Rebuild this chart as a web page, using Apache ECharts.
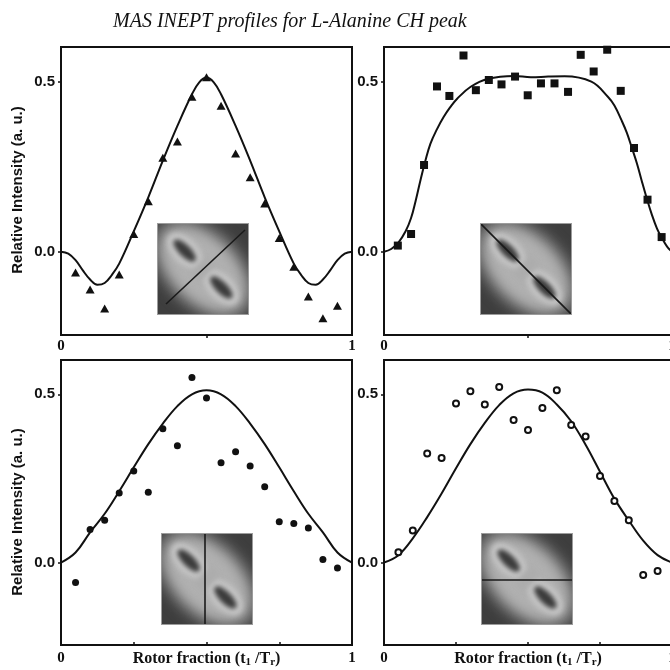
<!DOCTYPE html>
<html><head><meta charset="utf-8">
<script src="https://cdn.jsdelivr.net/npm/echarts@6/dist/echarts.min.js"></script>
<style>html,body{margin:0;padding:0;background:#fff}#c{width:670px;height:670px}</style>
</head><body><div id="c"></div>
<script>
// ---------- texts ----------
const chartTitle = 'MAS INEPT profiles for L-Alanine CH peak';
const yAxisName = 'Relative Intensity (a. u.)';
const xAxisName = 'Rotor fraction (t{s|1} /T{s|r})';
const yTickValues = [0, 0.5];
const xLabelValues = [0, 1];
const xTicksTop = [0.5];
const xTicksBottom = [0.25, 0.5, 0.75];

// ---------- panel 1 (triangles) ----------
const p1X = [0.05,0.10,0.15,0.20,0.25,0.30,0.35,0.40,0.45,0.50,0.55,0.60,0.65,0.70,0.75,0.80,0.85,0.90,0.95];
const p1Y = [-0.061,-0.111,-0.167,-0.067,0.052,0.148,0.276,0.324,0.456,0.513,0.429,0.289,0.219,0.142,0.040,-0.044,-0.132,-0.196,-0.159];
const c1X = [0,0.025,0.05,0.075,0.1,0.125,0.15,0.175,0.2,0.25,0.3,0.35,0.4,0.45,0.475,0.5,0.525,0.55,0.6,0.65,0.7,0.75,0.8,0.825,0.85,0.875,0.9,0.925,0.95,0.975,1];
const c1Y = [0,-0.006,-0.025,-0.055,-0.082,-0.097,-0.092,-0.068,-0.035,0.06,0.16,0.268,0.37,0.463,0.498,0.512,0.498,0.463,0.37,0.268,0.16,0.06,-0.035,-0.068,-0.092,-0.097,-0.082,-0.055,-0.025,-0.006,0];

// ---------- panel 2 (squares) ----------
const p2X = [0.048,0.094,0.139,0.184,0.227,0.276,0.319,0.364,0.408,0.455,0.499,0.545,0.592,0.639,0.683,0.728,0.775,0.822,0.868,0.915,0.964];
const p2Y = [0.018,0.052,0.255,0.486,0.458,0.577,0.475,0.505,0.492,0.515,0.460,0.495,0.495,0.470,0.579,0.530,0.594,0.473,0.305,0.153,0.043];
const c2X = [0,0.025,0.05,0.075,0.094,0.11,0.126,0.143,0.161,0.185,0.207,0.23,0.254,0.301,0.359,0.452,0.51,0.57,0.627,0.72,0.778,0.8,0.825,0.843,0.86,0.878,0.895,0.912,0.93,0.948,0.965,0.983,1];
const c2Y = [0,0.008,0.027,0.06,0.099,0.15,0.208,0.265,0.317,0.362,0.396,0.425,0.45,0.485,0.508,0.517,0.513,0.515,0.516,0.5,0.455,0.43,0.386,0.35,0.307,0.26,0.208,0.158,0.109,0.068,0.04,0.015,0];

// ---------- panel 3 (filled circles) ----------
const p3X = [0.05,0.10,0.15,0.20,0.25,0.30,0.35,0.40,0.45,0.50,0.55,0.60,0.65,0.70,0.75,0.80,0.85,0.90,0.95];
const p3Y = [-0.059,0.098,0.126,0.207,0.272,0.209,0.398,0.347,0.550,0.489,0.297,0.329,0.287,0.225,0.121,0.116,0.103,0.009,-0.016];
const c3X = [0,0.05,0.1,0.15,0.2,0.25,0.3,0.35,0.4,0.45,0.5,0.55,0.6,0.65,0.7,0.75,0.8,0.85,0.9,0.95,1];
const c3Y = [0,0.03,0.09,0.145,0.212,0.283,0.352,0.413,0.465,0.5,0.512,0.5,0.465,0.413,0.352,0.283,0.212,0.145,0.09,0.03,0];

// ---------- panel 4 (open circles) ----------
const p4X = [0.05,0.10,0.15,0.20,0.25,0.30,0.35,0.40,0.45,0.50,0.55,0.60,0.65,0.70,0.75,0.80,0.85,0.90,0.95];
const p4Y = [0.031,0.095,0.324,0.311,0.473,0.509,0.470,0.522,0.424,0.394,0.459,0.512,0.409,0.375,0.257,0.183,0.126,-0.037,-0.025];
const c4X = [0,0.05,0.1,0.15,0.2,0.25,0.3,0.35,0.4,0.45,0.5,0.55,0.6,0.65,0.7,0.75,0.8,0.85,0.9,0.95,1];
const c4Y = [0,0.022,0.072,0.135,0.205,0.28,0.352,0.415,0.468,0.503,0.514,0.505,0.47,0.42,0.35,0.27,0.19,0.125,0.065,0.022,0];

const zip = (xs, ys) => xs.map((x, i) => [x, ys[i]]);
const INK = '#111';

// ---------- inset pictures (decorative 2D spectra) ----------
function makeInset(kind) {
  const S = 92;
  const c = document.createElement('canvas');
  c.width = S; c.height = S;
  const g = c.getContext('2d');
  g.fillStyle = '#3e3e3e'; g.fillRect(0, 0, S, S);
  const ell = (cx, cy, rx, ry, col, blur) => {
    g.save(); g.filter = 'blur(' + blur + 'px)';
    g.translate(S / 2, S / 2); g.rotate(Math.PI / 4);
    g.beginPath(); g.ellipse(cx, cy, rx, ry, 0, 0, Math.PI * 2);
    g.fillStyle = col; g.fill(); g.restore();
  };
  ell(0, 0, 62, 40, '#707070', 6);
  ell(0, 0, 53, 32, '#9c9c9c', 5);
  ell(0, 0, 46, 26, '#b0b0b0', 4);
  ell(-26, 0, 21, 11, '#d2d2d2', 3);
  ell(26, 0, 21, 11, '#d2d2d2', 3);
  ell(-26, 0, 15, 6, '#3a3a3a', 2.5);
  ell(26, 0, 15, 6, '#3a3a3a', 2.5);
  ell(0, 0, 7, 13, '#acacac', 3);
  g.filter = 'none';
  g.strokeStyle = '#1a1a1a'; g.lineWidth = 1.6;
  g.beginPath();
  if (kind === 'anti') { g.moveTo(9, 81); g.lineTo(88, 7); }
  if (kind === 'diag') { g.moveTo(0, 0); g.lineTo(S, S); }
  if (kind === 'vert') { g.moveTo(44, 0); g.lineTo(44, S); }
  if (kind === 'horiz') { g.moveTo(0, 47); g.lineTo(S, 47); }
  g.stroke();
  g.strokeStyle = '#9c9c9c'; g.lineWidth = 1;
  g.strokeRect(0.5, 0.5, S - 1, S - 1);
  return c;
}

// ---------- layout ----------
const grids = [
  { left: 61, top: 47, width: 291, height: 288 },
  { left: 384, top: 47, width: 288, height: 288 },
  { left: 61, top: 360, width: 291, height: 285 },
  { left: 384, top: 360, width: 288, height: 285 }
].map(g => Object.assign(g, { show: true, borderColor: INK, borderWidth: 2, backgroundColor: 'transparent',
  containLabel: false, outerBoundsMode: 'none' }));

const serifBold = { fontFamily: 'Liberation Serif', fontWeight: 'bold', color: INK };

function xAx(gi, bottom) {
  return {
    type: 'value', gridIndex: gi, min: 0, max: 1,
    axisLine: { show: false, onZero: false }, splitLine: { show: false },
    axisTick: { show: true, customValues: bottom ? xTicksBottom : xTicksTop, inside: bottom, length: 3, lineStyle: { color: INK, width: 1.5 } },
    axisLabel: Object.assign({ customValues: xLabelValues, margin: bottom ? 6 : 4, formatter: v => String(v), fontSize: 15 }, serifBold),
    name: bottom ? xAxisName : '', nameLocation: 'middle', nameGap: 5, nameMoveOverlap: false,
    nameTextStyle: Object.assign({ fontSize: 16, lineHeight: 18, verticalAlign: 'top',
      rich: { s: { fontFamily: 'Liberation Serif', fontWeight: 'bold', color: INK, fontSize: 11, lineHeight: 8, verticalAlign: 'bottom' } } }, serifBold)
  };
}
function yAx(gi) {
  return {
    type: 'value', gridIndex: gi, min: -0.245, max: 0.602,
    axisLine: { show: false, onZero: false }, splitLine: { show: false },
    axisTick: { show: true, customValues: yTickValues, inside: false, length: 3, lineStyle: { color: INK, width: 1.5 } },
    axisLabel: { customValues: yTickValues, margin: 6, formatter: v => v.toFixed(1), fontFamily: 'Liberation Sans', fontWeight: 'bold', fontSize: 15, color: INK }
  };
}

function curve(i, xs, ys) {
  return { type: 'line', xAxisIndex: i, yAxisIndex: i, data: zip(xs, ys), showSymbol: false, smooth: 0.4,
    lineStyle: { color: INK, width: 2 }, z: 3, silent: true };
}
function pts(i, xs, ys, symbol, size, extra) {
  return Object.assign({ type: 'scatter', xAxisIndex: i, yAxisIndex: i, data: zip(xs, ys), symbol, symbolSize: size,
    itemStyle: { color: INK, opacity: 1 }, z: 4 }, extra || {});
}

const insets = [
  { kind: 'anti', x: 157, y: 223 },
  { kind: 'diag', x: 480, y: 223 },
  { kind: 'vert', x: 161, y: 533 },
  { kind: 'horiz', x: 481, y: 533 }
];

const option = {
  animation: false,
  backgroundColor: '#fff',
  title: { text: chartTitle, left: 113, top: 12, padding: 0,
    textStyle: { fontFamily: 'Liberation Serif', fontStyle: 'italic', fontWeight: 'normal', fontSize: 20, color: INK } },
  grid: grids,
  xAxis: [xAx(0, false), xAx(1, false), xAx(2, true), xAx(3, true)],
  yAxis: [yAx(0), yAx(1), yAx(2), yAx(3)],
  graphic: insets.map(s => ({ type: 'image', x: s.x, y: s.y, z: 1, silent: true,
      style: { image: makeInset(s.kind), width: 92, height: 92 } }))
    .concat([190, 512].map(cy => ({ type: 'text', x: 18, y: cy, rotation: Math.PI / 2, silent: true,
      style: { text: yAxisName, align: 'center', verticalAlign: 'middle', textAlign: 'center', textVerticalAlign: 'middle',
        font: 'bold 15px "Liberation Sans"', fill: INK } }))),
  series: [
    curve(0, c1X, c1Y), pts(0, p1X, p1Y, 'triangle', [9, 8]),
    curve(1, c2X, c2Y), pts(1, p2X, p2Y, 'rect', 8),
    curve(2, c3X, c3Y), pts(2, p3X, p3Y, 'circle', 7),
    curve(3, c4X, c4Y), pts(3, p4X, p4Y, 'emptyCircle', 6, { itemStyle: { color: INK, borderColor: INK, borderWidth: 2, opacity: 1 } })
  ]
};

const chart = echarts.init(document.getElementById('c'), null, { renderer: 'canvas' });
chart.setOption(option);
</script>
</body></html>
